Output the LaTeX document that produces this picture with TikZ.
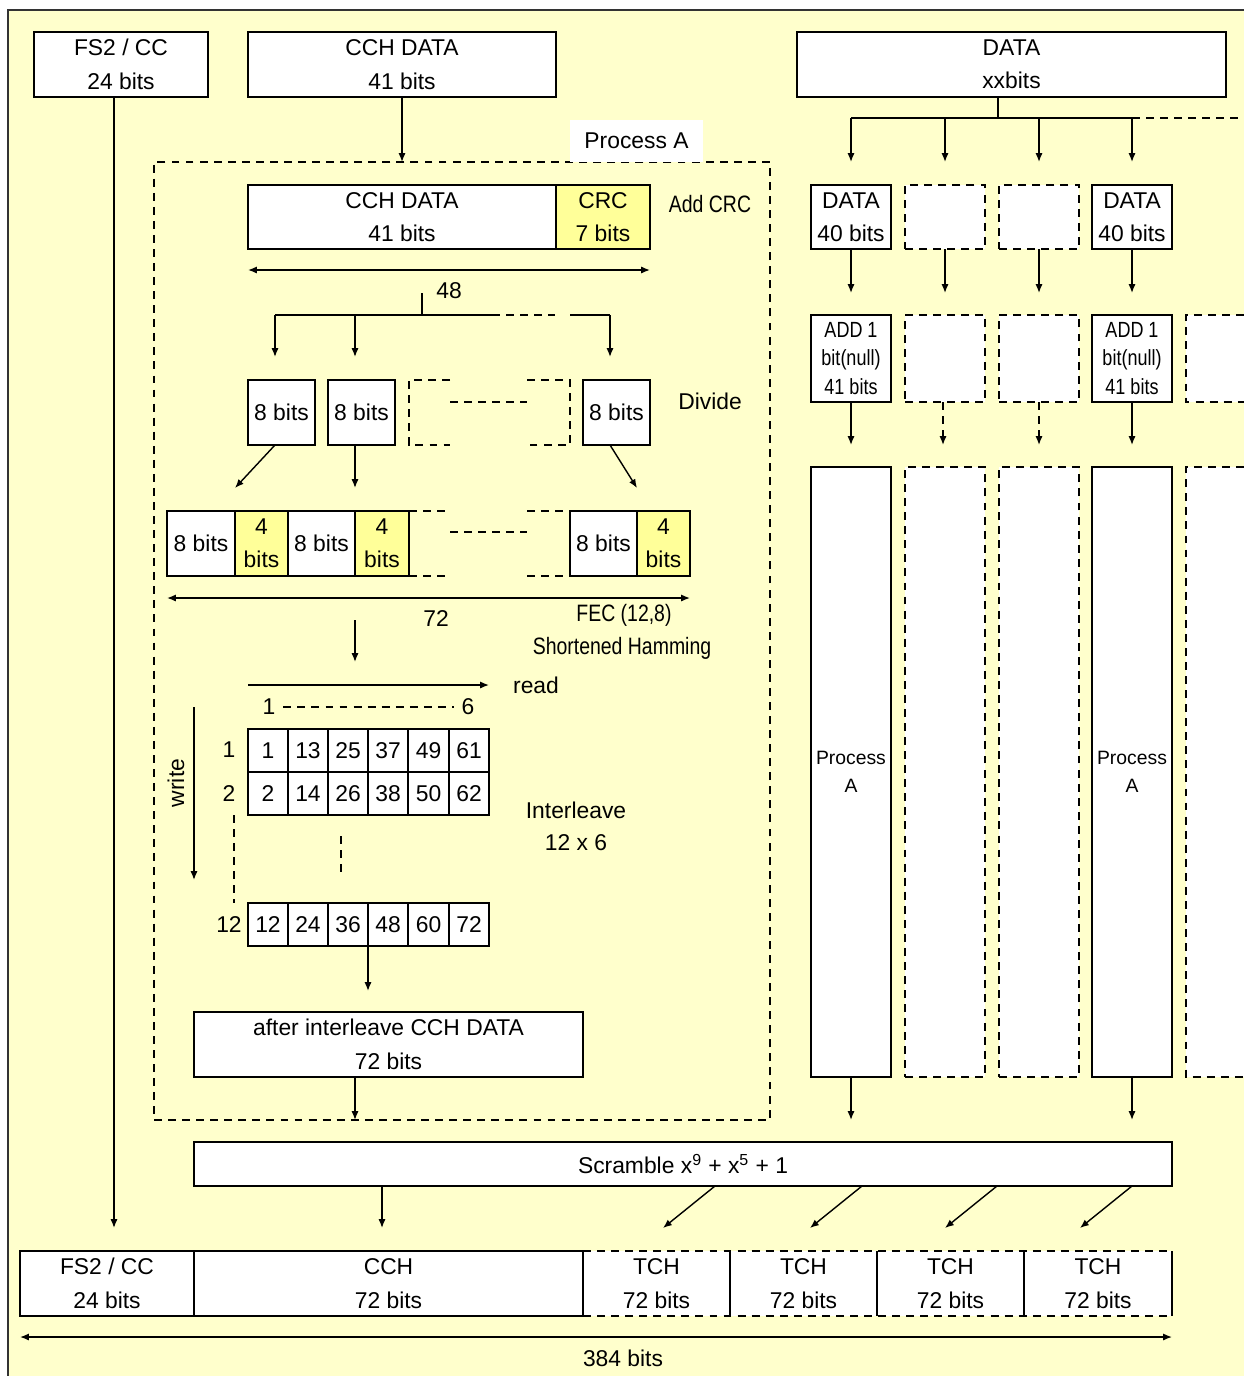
\documentclass[tikz,border=0pt]{standalone}
\usepackage{fontspec}
\setmainfont{Liberation Sans}
\newfontfamily\narrowfont[FakeStretch=0.82]{Liberation Sans}
\usetikzlibrary{arrows.meta}
\definecolor{bgyel}{HTML}{FFFFCC}
\definecolor{crcyel}{HTML}{FFFF99}
\tikzset{
  every node/.style={inner sep=0pt, outer sep=0pt},
  txt/.style={font=\fontsize{13}{19}\selectfont, align=center},
  ntxt/.style={font=\narrowfont\fontsize{13.5}{19}\selectfont, align=center},
  box/.style={txt, draw, fill=white, line width=0.8pt},
  dsh/.style={dash pattern=on 4.5pt off 3.5pt},
  dbox/.style={box, dsh},
  ybox/.style={box, fill=crcyel},
  pabox/.style={draw, dsh, line width=0.8pt},
  wlab/.style={txt, fill=white},
  tchbox/.style={txt, fill=white},
  arr/.style={-{Latex[length=5pt,width=4pt]}, line width=0.8pt},
  dbl/.style={{Latex[length=5pt,width=4pt]}-{Latex[length=5pt,width=4pt]}, line width=0.8pt},
  ln/.style={line width=0.8pt},
  addt/.style={font=\narrowfont\fontsize{12.5}{16}\selectfont},
  pat/.style={font=\fontsize{11}{16}\selectfont},
}
\newcommand\mybox[7][box]{\node[#1, minimum width={(#5-#3)*0.02cm}, minimum height={(#6-#4)*0.02cm}] (#2) at ({(#3+#5)/2},{(#4+#6)/2}) {#7};}
\begin{document}
\begin{tikzpicture}[x=0.02cm,y=-0.02cm]
\useasboundingbox (0,0) rectangle (1244,1376);
\fill[bgyel] (8,10) rectangle (1244,1376);
\draw[line width=0.8pt, black!80] (8,1376) -- (8,10) -- (1244,10);

% top boxes
\mybox{fs2}{34}{32}{208}{97}{FS2 / CC\\24 bits}
\mybox{cchtop}{248}{32}{556}{97}{CCH DATA\\41 bits}
\mybox{data}{797}{32}{1226}{97}{DATA\\xxbits}

% Process A dashed frame
\mybox[pabox]{pa}{154}{162}{770}{1120}{}
\mybox[wlab]{palbl}{570}{120}{703}{162}{Process A}
\draw[arr] (cchtop.south) -- (cchtop.south |- pa.north);

% CRC row
\mybox{cchi}{248}{185}{556}{249}{CCH DATA\\41 bits}
\mybox[ybox]{crc}{556}{185}{650}{249}{CRC\\7 bits}
\node[ntxt] (addcrc) at (710,204) {Add CRC};
\coordinate (d48a) at (248,270); \coordinate (d48b) at (650,270);
\draw[dbl] (d48a) -- (d48b);
\node[txt] (n48) at (449,291) {48};

% divide tree
\coordinate (t0) at (422,293); \coordinate (t1) at (422,315);
\coordinate (h1) at (275,315); \coordinate (h2) at (355,315);
\coordinate (h3) at (492,315); \coordinate (h4) at (555,315);
\coordinate (h5) at (570,315); \coordinate (h6) at (610,315);
\draw[ln] (t0) -- (t1);
\draw[ln] (h1) -- (h3);
\draw[ln, dsh] (h3) -- (h4);
\draw[ln] (h5) -- (h6);
\draw[arr] (h1) -- ++(0,42);
\draw[arr] (h2) -- ++(0,42);
\draw[arr] (h6) -- ++(0,42);

\mybox{b1}{248}{380}{315}{445}{8 bits}
\mybox{b2}{328}{380}{395}{445}{8 bits}
\mybox{b3}{583}{380}{650}{445}{8 bits}
\draw[ln, dsh] (450,380) -- (409,380) -- (409,445) -- (450,445);
\draw[ln, dsh] (527,380) -- (570,380) -- (570,445) -- (527,445);
\draw[ln, dsh] (450,402) -- (527,402);
\node[txt] (divide) at (710,401) {Divide};

\draw[arr] (b1.south -| 275,0) -- (235,488);
\draw[arr] (b2.south -| 355,0) -- (355,488);
\draw[arr] (b3.south -| 610,0) -- (637,488);

% FEC row
\mybox{c1}{167}{511}{235}{576}{8 bits}
\mybox[ybox]{p1}{235}{511}{288}{576}{4\\bits}
\mybox{c2}{288}{511}{355}{576}{8 bits}
\mybox[ybox]{p2}{355}{511}{409}{576}{4\\bits}
\mybox{c3}{570}{511}{637}{576}{8 bits}
\mybox[ybox]{p3}{637}{511}{690}{576}{4\\bits}
\draw[ln, dsh] (409,511) -- (450,511);
\draw[ln, dsh] (409,576) -- (450,576);
\draw[ln, dsh] (527,511) -- (570,511);
\draw[ln, dsh] (527,576) -- (570,576);
\draw[ln, dsh] (450,532) -- (527,532);
\coordinate (d72a) at (167,598); \coordinate (d72b) at (690,598);
\draw[dbl] (d72a) -- (d72b);
\node[txt] (n72) at (436,619) {72};
\node[ntxt] (fec) at (624,615) {FEC (12,8)};
\node[ntxt] (ham) at (622,648) {Shortened Hamming};
\coordinate (fa) at (355,620); \coordinate (fb) at (355,662);
\draw[arr] (fa) -- (fb);

% interleave
\coordinate (ra) at (248,685); \coordinate (rb) at (489,685);
\draw[arr] (ra) -- (rb);
\node[txt] (read) at (536,685) {read};
\node[txt] (col1) at (269,707) {1};
\node[txt] (col6) at (468,707) {6};
\draw[ln, dsh] (col1.east) ++(8,0) -- ([xshift=-0.16cm]col6.west);
\node[txt, rotate=90] (write) at (176,783) {write};
\coordinate (wa) at (194,707); \coordinate (wb) at (194,880);
\draw[arr] (wa) -- (wb);
\node[txt] (r1) at (229,750) {1};
\node[txt] (r2) at (229,794) {2};
\node[txt] (r12) at (229,925) {12};
\draw[ln, dsh] (234,815) -- (234,903);
\draw[ln, dsh] (341,836) -- (341,878);
\def\cx{{248,288,328,368,408,449,489}}
\foreach \i/\a/\b in {0/1/2,1/13/14,2/25/26,3/37/38,4/49/50,5/61/62}{
  \pgfmathsetmacro\xa{\cx[\i]}\pgfmathsetmacro\xb{\cx[\i+1]}
  \mybox{ta\i}{\xa}{729}{\xb}{772}{\a}
  \mybox{tb\i}{\xa}{772}{\xb}{815}{\b}
}
\foreach \i/\c in {0/12,1/24,2/36,3/48,4/60,5/72}{
  \pgfmathsetmacro\xa{\cx[\i]}\pgfmathsetmacro\xb{\cx[\i+1]}
  \mybox{tc\i}{\xa}{903}{\xb}{946}{\c}
}
\node[txt] (ilv) at (576,810) {Interleave};
\node[txt] (ilv2) at (576,843) {12 x 6};

\mybox{aft}{194}{1012}{583}{1077}{after interleave CCH DATA\\72 bits}
\draw[arr] (tc3.south west) -- ([yshift=-0.9cm]tc3.south west);
\draw[arr] (aft.south -| 355,0) -- (pa.south -| 355,0);

% right side
\coordinate (dj) at (998,118);
\coordinate (dl) at (851,118); \coordinate (dr) at (1132,118);
\coordinate (de) at (1244,118);
\draw[ln] (data.south -| dj) -- (dj);
\draw[ln] (dl) -- (dr);
\draw[ln, dsh] (dr) -- (de);
\foreach \x in {851,945,1039,1132}{ \draw[arr] (\x,118) -- (\x,162); }

\mybox{d1}{811}{185}{891}{249}{DATA\\40 bits}
\mybox[dbox]{d2}{905}{185}{985}{249}{}
\mybox[dbox]{d3}{999}{185}{1079}{249}{}
\mybox{d4}{1092}{185}{1172}{249}{DATA\\40 bits}
\foreach \n in {d1,d2,d3,d4}{ \draw[arr] (\n.south) -- ++(0,44); }

\mybox[box,addt]{a1}{811}{315}{891}{402}{ADD 1\\bit(null)\\41 bits}
\mybox[dbox]{a2}{905}{315}{985}{402}{}
\mybox[dbox]{a3}{999}{315}{1079}{402}{}
\mybox[box,addt]{a4}{1092}{315}{1172}{402}{ADD 1\\bit(null)\\41 bits}
\fill[white] (1186,315) rectangle (1244,402);
\draw[ln, dsh] (1244,315) -- (1186,315) -- (1186,402) -- (1244,402);

\mybox[box,pat]{pr1}{811}{467}{891}{1077}{Process\\A}
\mybox[dbox]{pr2}{905}{467}{985}{1077}{}
\mybox[dbox]{pr3}{999}{467}{1079}{1077}{}
\mybox[box,pat]{pr4}{1092}{467}{1172}{1077}{Process\\A}
\fill[white] (1186,467) rectangle (1244,1077);
\draw[ln, dsh] (1244,467) -- (1186,467) -- (1186,1077) -- (1244,1077);

\draw[arr] (a1.south) -- (pr1.north |- 0,445);
\draw[arr, dsh] (a2.south -| 943,0) -- (943,445);
\draw[arr, dsh] (a3.south) -- (a3.south |- 0,445);
\draw[arr] (a4.south) -- (pr4.north |- 0,445);
\draw[arr] (pr1.south) -- ++(0,43);
\draw[arr] (pr4.south) -- ++(0,43);

% scramble
\mybox{scr}{194}{1142}{1172}{1186}{Scramble x\textsuperscript{9} + x\textsuperscript{5} + 1}

% bottom row
\mybox{bfs}{20}{1251}{194}{1316}{FS2 / CC\\24 bits}
\mybox{bcch}{194}{1251}{583}{1316}{CCH\\72 bits}
\mybox[tchbox]{t1}{583}{1251}{730}{1316}{TCH\\72 bits}
\mybox[tchbox]{t2}{730}{1251}{877}{1316}{TCH\\72 bits}
\mybox[tchbox]{t3}{877}{1251}{1024}{1316}{TCH\\72 bits}
\mybox[tchbox]{t4}{1024}{1251}{1172}{1316}{TCH\\72 bits}
\draw[ln, dsh] (t1.north west) -- (t4.north east);
\draw[ln, dsh] (t1.south west) -- (t4.south east);
\foreach \n in {t1,t2,t3,t4}{ \draw[ln] (\n.north west) -- (\n.south west); }
\draw[ln] (t4.north east) -- (t4.south east);

\draw[arr] (fs2.south -| 114,0) -- (114,1228);
\draw[arr] (scr.south -| 382,0) -- (382,1228);
\draw[arr] (scr.south -| 715,0) -- (663,1228);
\draw[arr] (scr.south -| 862,0) -- (810,1228);
\draw[arr] (scr.south -| 997,0) -- (945,1228);
\draw[arr] (scr.south -| 1132,0) -- (1080,1228);

\coordinate (la) at (20,1337); \coordinate (lb) at (1172,1337);
\draw[dbl] (la) -- (lb);
\node[txt] (n384) at (623,1358) {384 bits};
\end{tikzpicture}
\end{document}
